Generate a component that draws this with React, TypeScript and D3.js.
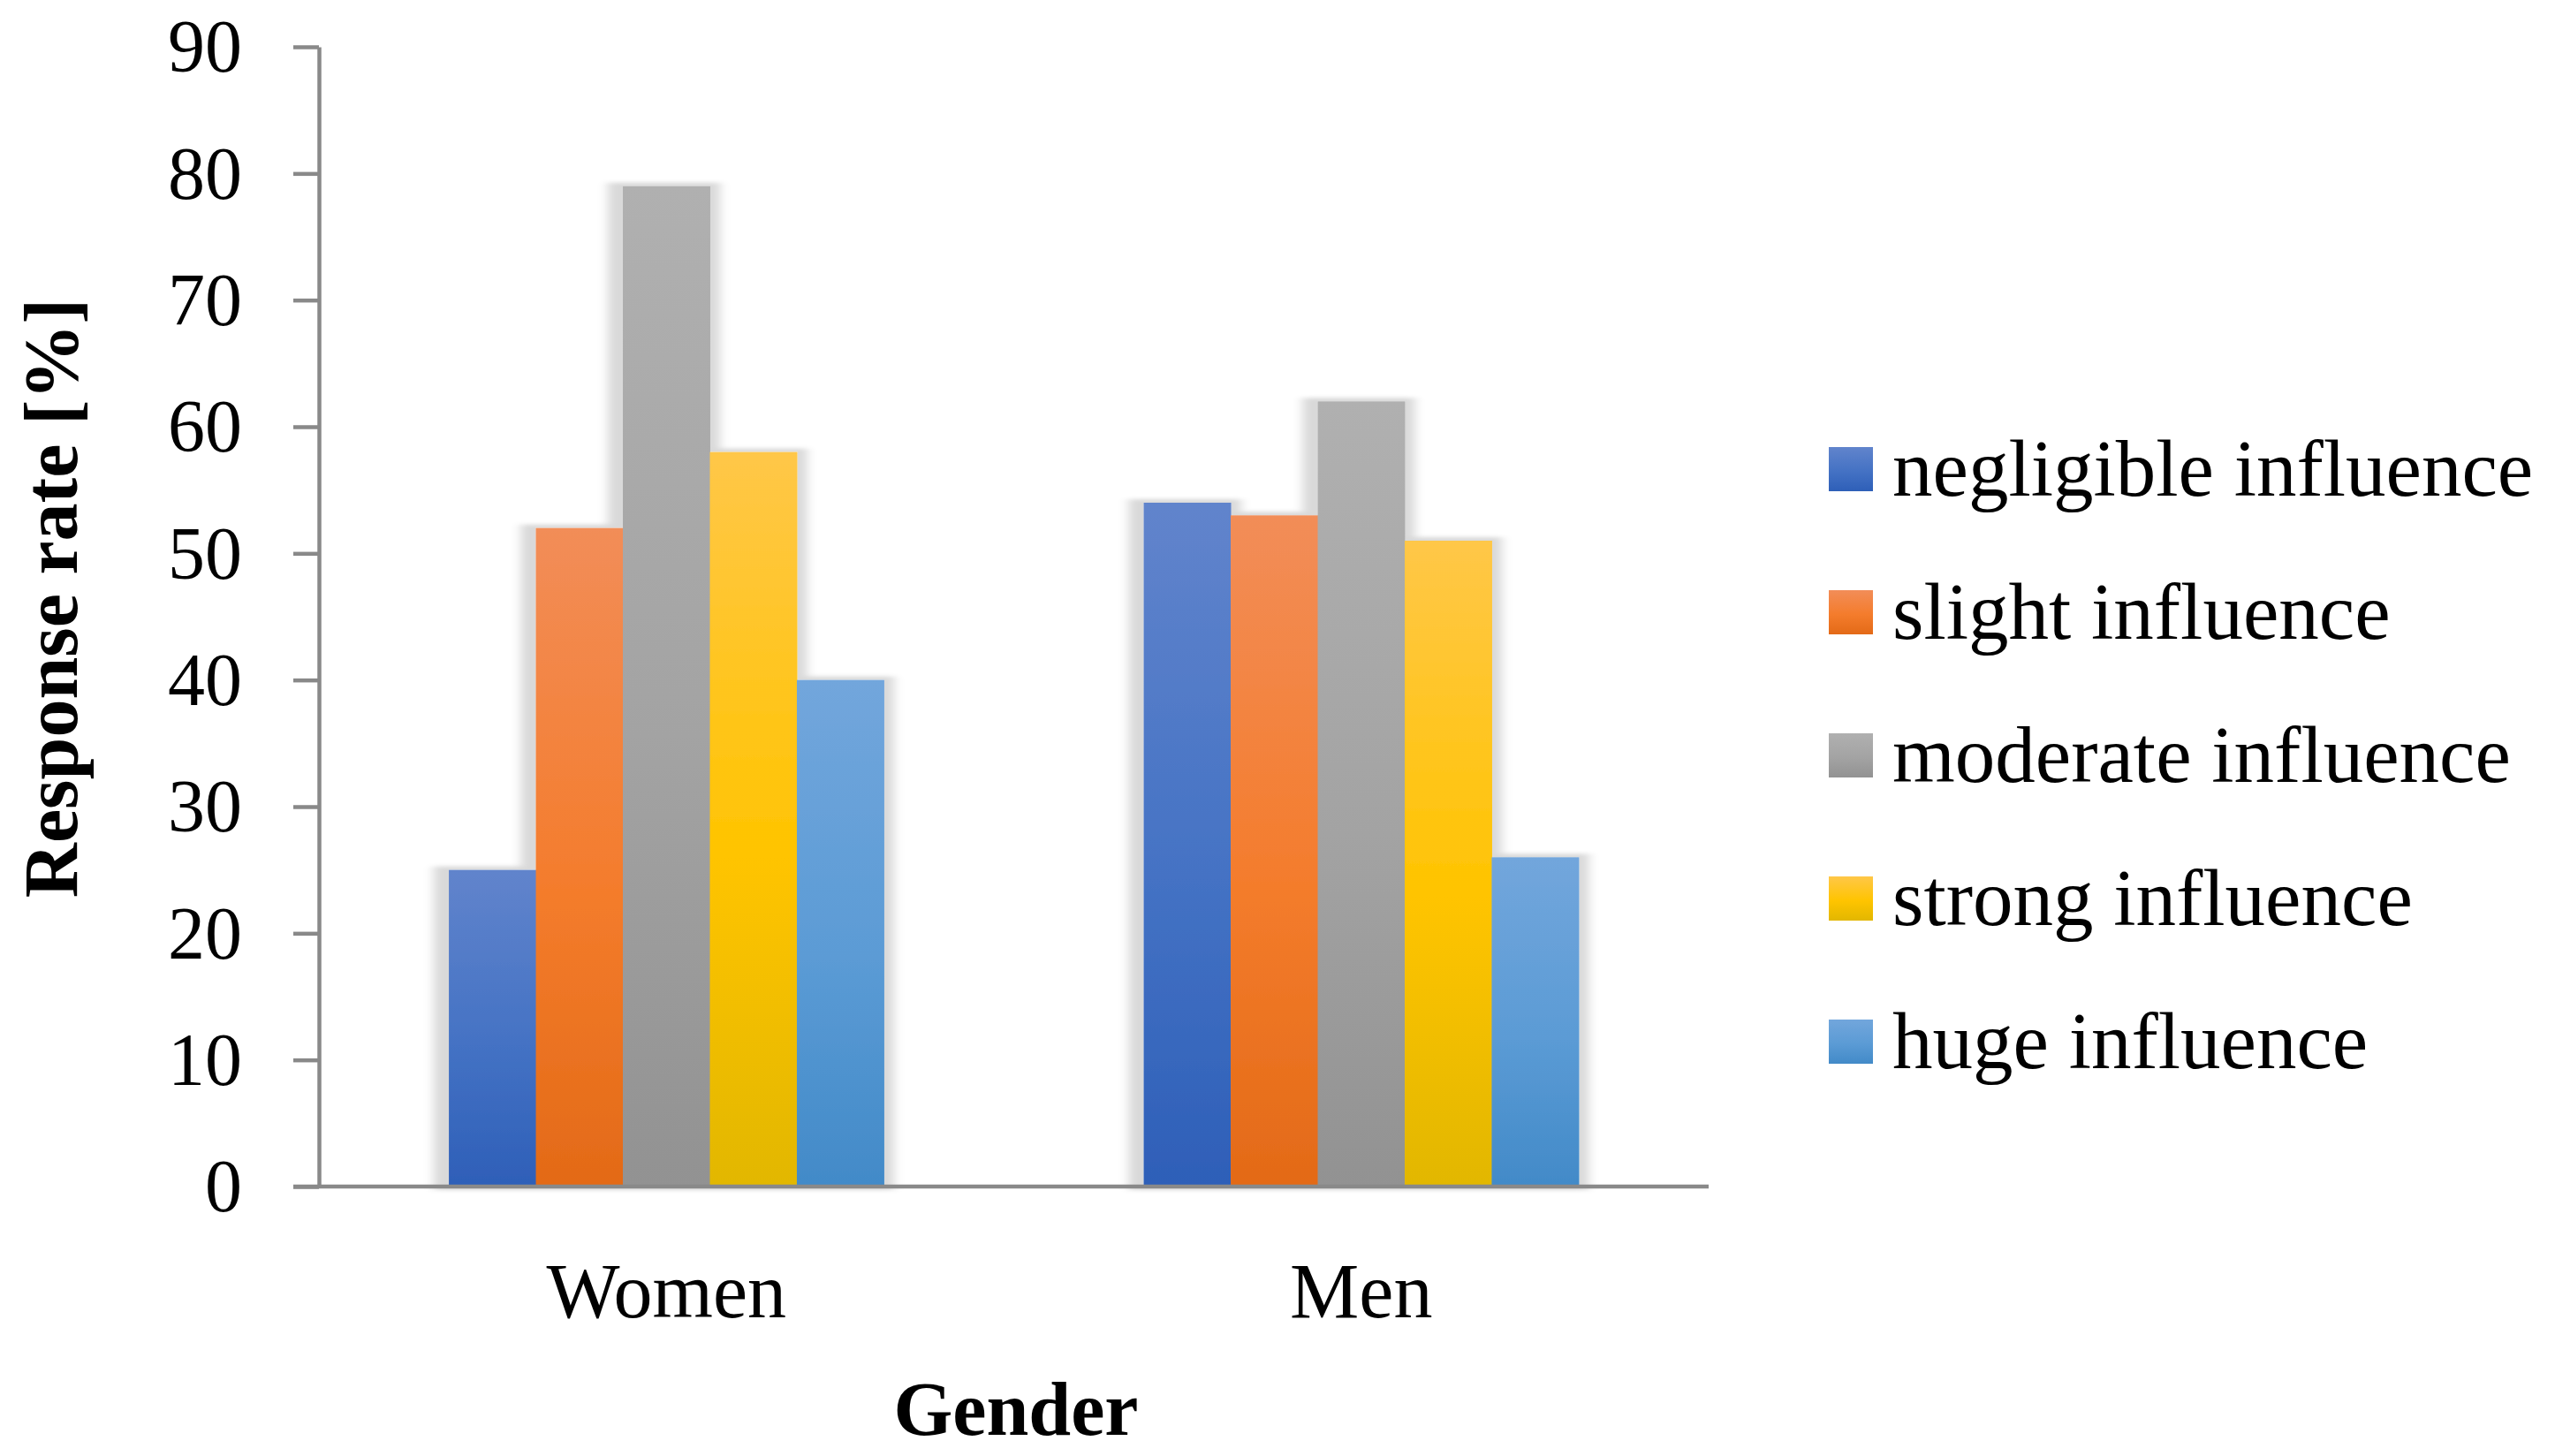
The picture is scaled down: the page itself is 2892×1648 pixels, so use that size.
import { useEffect, useRef } from "react";
import * as d3 from "d3";

const categories = ["Women", "Men"];
const seriesNames = [
  "negligible influence",
  "slight influence",
  "moderate influence",
  "strong influence",
  "huge influence",
];
const women = [25, 52, 79, 58, 40];
const men = [54, 53, 62, 51, 26];
const yTicks = [0, 10, 20, 30, 40, 50, 60, 70, 80, 90];

// top / middle / bottom stops of each bar's gradient
const gradients = [
  ["#6184cc", "#4472c4", "#2e5fb8"],
  ["#f28d58", "#f47c2c", "#e36a17"],
  ["#b0b0b0", "#a3a3a3", "#929292"],
  ["#ffc748", "#ffc400", "#e2b700"],
  ["#72a6dc", "#5b9bd5", "#428ac8"],
];

const W = 2892;
const H = 1648;
const FONT = "'Liberation Serif', 'Times New Roman', serif";
const AXIS = "#898989";

export default function App() {
  const axisRef = useRef<SVGGElement | null>(null);

  const values = [women, men];
  const x = d3.scaleBand<string>().domain(categories).range([361, 1934]).padding(0);
  const bw = x.bandwidth();
  const gw = bw * 0.626;
  const xs = d3
    .scaleBand<string>()
    .domain(seriesNames)
    .range([(bw - gw) / 2, (bw + gw) / 2])
    .padding(0);
  const y = d3.scaleLinear().domain([0, 90]).range([1343, 53]);

  useEffect(() => {
    const g = d3.select(axisRef.current);
    g.selectAll("*").remove();
    const ay = g
      .append("g")
      .attr("transform", "translate(361,0)")
      .call(d3.axisLeft(y).tickValues(yTicks).tickSize(29).tickSizeOuter(0).tickPadding(58));
    ay.select(".domain").attr("stroke", AXIS).attr("stroke-width", 4.5);
    ay.selectAll(".tick line").attr("stroke", AXIS).attr("stroke-width", 4.5);
    ay.selectAll(".tick text")
      .attr("fill", "#000")
      .style("font-family", FONT)
      .style("font-size", "84px")
      .attr("dy", "0.33em");
  }, []);

  return (
    <svg
      width={W}
      height={H}
      style={{ position: "absolute", left: 0, top: 0, background: "#fff" }}
    >
      <defs>
        {gradients.map((c, i) => (
          <linearGradient key={i} id={`grad${i}`} x1="0" y1="0" x2="0" y2="1">
            <stop offset="0%" stopColor={c[0]} />
            <stop offset="55%" stopColor={c[1]} />
            <stop offset="100%" stopColor={c[2]} />
          </linearGradient>
        ))}
        <filter id="glow" x="-30%" y="-10%" width="160%" height="120%">
          <feMorphology in="SourceAlpha" operator="dilate" radius="14 4" result="fat" />
          <feGaussianBlur in="fat" stdDeviation="6 2" result="blur" />
          <feOffset in="blur" dx="-3" dy="0" result="off" />
          <feFlood floodColor="#000" floodOpacity="0.15" />
          <feComposite in2="off" operator="in" result="shadow" />
          <feMerge>
            <feMergeNode in="shadow" />
            <feMergeNode in="SourceGraphic" />
          </feMerge>
        </filter>
      </defs>
      <rect width={W} height={H} fill="#fff" />

      {categories.map((cat, ci) => (
        <g key={cat} transform={`translate(${x(cat)},0)`} filter="url(#glow)">
          {seriesNames.map((s, si) => (
            <rect
              key={s}
              x={xs(s)}
              y={y(values[ci][si])}
              width={xs.bandwidth() + 0.5}
              height={y(0) - y(values[ci][si])}
              fill={`url(#grad${si})`}
            />
          ))}
        </g>
      ))}

      <g ref={axisRef} />
      <line x1={332} x2={x.range()[1]} y1={y(0)} y2={y(0)} stroke={AXIS} strokeWidth={4.5} />

      {categories.map((cat) => (
        <text
          key={cat}
          x={x(cat)! + bw / 2}
          y={1491}
          textAnchor="middle"
          fontFamily={FONT}
          fontSize={88}
        >
          {cat}
        </text>
      ))}

      <text
        x={1150}
        y={1624}
        textAnchor="middle"
        fontFamily={FONT}
        fontSize={86}
        fontWeight="bold"
      >
        Gender
      </text>
      <text
        transform={`translate(87,677) rotate(-90)`}
        textAnchor="middle"
        fontFamily={FONT}
        fontSize={86}
        fontWeight="bold"
      >
        Response rate [%]
      </text>

      {seriesNames.map((s, i) => {
        const cy = 531 + i * 162;
        return (
          <g key={s}>
            <rect x={2070} y={cy - 25} width={50} height={50} fill={`url(#grad${i})`} />
            <text x={2142} y={cy} dy="0.33em" fontFamily={FONT} fontSize={91}>
              {s}
            </text>
          </g>
        );
      })}
    </svg>
  );
}
